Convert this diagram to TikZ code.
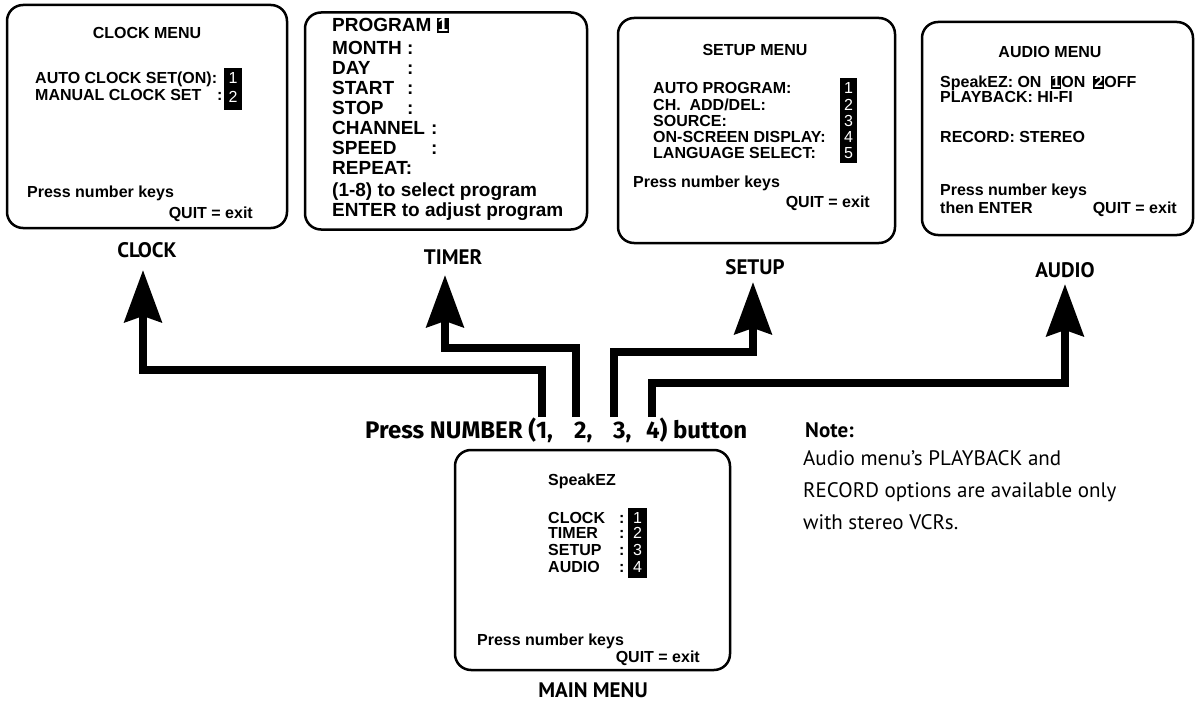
\documentclass[tikz,border=0pt]{standalone}
\usepackage{fontspec}
\setmainfont{Liberation Sans}
\newfontfamily\lblfont{PT Sans}
\newfontfamily\prsfont{Fira Sans}
\usetikzlibrary{arrows.meta}
\newcommand\bxf{\fontsize{16pt}{17pt}\selectfont\bfseries}
\newcommand\txf{\fontsize{19pt}{20pt}\selectfont\bfseries}
\newcommand\dgf{\fontsize{16pt}{17pt}\selectfont}
\newcommand\lbf{\lblfont\fontsize{21pt}{24pt}\selectfont\bfseries}
\newcommand\prf{\prsfont\fontsize{24pt}{26pt}\selectfont\bfseries}
\newcommand\ntf{\lblfont\fontsize{21pt}{24pt}\selectfont}
\newcommand\nbox[1]{\begingroup\setlength{\fboxsep}{1pt}\colorbox{black}{\textcolor{white}{#1}}\endgroup}
\tikzset{
  frame/.style={draw, line width=2.5pt, rounded corners=16pt, inner sep=0pt},
  bt/.style={font=\bxf, inner sep=0pt, text height=11.5pt, text depth=0pt, anchor=west},
  btc/.style={bt, anchor=center},
  bte/.style={bt, anchor=east},
  tt/.style={font=\txf, inner sep=0pt, text height=13.6pt, text depth=0pt, anchor=west},
  bar/.style={fill=black, inner sep=0pt},
  dg/.style={font=\dgf, text=white, inner sep=0pt, text height=11.5pt, text depth=0pt, anchor=center},
  lbl/.style={font=\lbf, inner sep=0pt, text height=14.7pt, text depth=0pt, anchor=center},
  prs/.style={font=\prf, inner sep=0pt, text height=16.5pt, text depth=0pt, anchor=west},
  note/.style={font=\ntf, inner sep=0pt, text height=14.7pt, text depth=0pt, anchor=west},
  conn/.style={line width=8pt, -{Stealth[length=52pt,width=37pt,inset=6pt]}}
}
\begin{document}
\begin{tikzpicture}[x=1pt,y=-1pt]
\useasboundingbox (0,0) rectangle (1195,706);
% ---------- CLOCK ----------
\node[frame, minimum width=280pt, minimum height=223pt] (clockbox) at (147,116.5) {};
\node[btc] (clocktitle) at (147,33) {CLOCK MENU};
\node[bt] (clk1) at (35,78) {AUTO CLOCK SET(ON):};
\node[bt] (clk2) at (35,95) {MANUAL CLOCK SET};
\node[bt] (clk2c) at (217,95) {:};
\node[bar, minimum width=18pt, minimum height=42pt] (clkbar) at (233,89) {};
\node[dg] (clkd1) at (233,78) {1};
\node[dg] (clkd2) at (233,97) {2};
\node[bt] (clkpress) at (27,192) {Press number keys};
\node[bte] (clkquit) at (253,213) {QUIT = exit};
\node[lbl] (clocklbl) at (147,250) {CLOCK};
% ---------- TIMER ----------
\node[frame, minimum width=282pt, minimum height=217pt] (timerbox) at (446,121) {};
\node[tt] (tm0) at (332,25) {PROGRAM \nbox{1}};
\node[tt] (tm1) at (332,48) {MONTH};
\node[tt] (tm1c) at (407,48) {:};
\node[tt] (tm2) at (332,68) {DAY};
\node[tt] (tm2c) at (407,68) {:};
\node[tt] (tm3) at (332,88) {START};
\node[tt] (tm3c) at (407,88) {:};
\node[tt] (tm4) at (332,108) {STOP};
\node[tt] (tm4c) at (407,108) {:};
\node[tt] (tm5) at (332,128) {CHANNEL};
\node[tt] (tm5c) at (431,128) {:};
\node[tt] (tm6) at (332,148) {SPEED};
\node[tt] (tm6c) at (431,148) {:};
\node[tt] (tm7) at (332,168) {REPEAT:};
\node[tt] (tm8) at (332,190) {(1-8) to select program};
\node[tt] (tm9) at (332,210) {ENTER to adjust program};
\node[lbl] (timerlbl) at (453,257) {TIMER};
% ---------- SETUP ----------
\node[frame, minimum width=277pt, minimum height=225pt] (setupbox) at (756.5,130.5) {};
\node[btc] (setuptitle) at (755,50) {SETUP MENU};
\node[bt] (su1) at (653,88) {AUTO PROGRAM:};
\node[bt] (su2) at (653,105) {CH.\ \ ADD/DEL:};
\node[bt] (su3) at (653,121) {SOURCE:};
\node[bt] (su4) at (653,137) {ON-SCREEN DISPLAY:};
\node[bt] (su5) at (653,153) {LANGUAGE SELECT:};
\node[bar, minimum width=17pt, minimum height=85pt] (subar) at (848.5,120.5) {};
\node[dg] (sud1) at (848.5,88) {1};
\node[dg] (sud2) at (848.5,105) {2};
\node[dg] (sud3) at (848.5,121) {3};
\node[dg] (sud4) at (848.5,137) {4};
\node[dg] (sud5) at (848.5,153) {5};
\node[bt] (supress) at (633,182) {Press number keys};
\node[bte] (suquit) at (870,202) {QUIT = exit};
\node[lbl] (setuplbl) at (755,267) {SETUP};
% ---------- AUDIO ----------
\node[frame, minimum width=271pt, minimum height=213pt] (audiobox) at (1057.5,128.5) {};
\node[btc] (audiotitle) at (1050,52) {AUDIO MENU};
\node[bt] (au1) at (940,82) {SpeakEZ: ON\hspace{9pt}\nbox{1}ON\hspace{8pt}\nbox{2}OFF};
\node[bt] (au2) at (940,97) {PLAYBACK: HI-FI};
\node[bt] (au3) at (940,137) {RECORD: STEREO};
\node[bt] (aupress) at (940,190) {Press number keys};
\node[bt] (auenter) at (940,208) {then ENTER};
\node[bte] (auquit) at (1177,208) {QUIT = exit};
\node[lbl] (audiolbl) at (1065,270) {AUDIO};
% ---------- MAIN ----------
\node[frame, minimum width=275pt, minimum height=220pt] (mainbox) at (592.5,560) {};
\node[btc] (maintitle) at (582,480) {SpeakEZ};
\node[bt] (mn1) at (548,518) {CLOCK};
\node[bt] (mn2) at (548,533) {TIMER};
\node[bt] (mn3) at (548,550) {SETUP};
\node[bt] (mn4) at (548,567) {AUDIO};
\node[bt] (mn1c) at (619,518) {:};
\node[bt] (mn2c) at (619,533) {:};
\node[bt] (mn3c) at (619,550) {:};
\node[bt] (mn4c) at (619,567) {:};
\node[bar, minimum width=19pt, minimum height=70pt] (mnbar) at (637.5,543) {};
\node[dg] (mnd1) at (637.5,518) {1};
\node[dg] (mnd2) at (637.5,533) {2};
\node[dg] (mnd3) at (637.5,550) {3};
\node[dg] (mnd4) at (637.5,567) {4};
\node[bt] (mnpress) at (477,640) {Press number keys};
\node[bte] (mnquit) at (700,657) {QUIT = exit};
\node[lbl] (mainlbl) at (593,690) {MAIN MENU};
% ---------- press label ----------
\node[prs] (press) at (365,430) {Press NUMBER (\makebox[38pt][l]{1,}\makebox[39pt][l]{2,}\makebox[33pt][l]{3,}4) button};
% ---------- note ----------
\node[note, font=\ntf\bfseries] (notehd) at (805,430) {Note:};
\node[note] (note1) at (803,458) {Audio menu’s PLAYBACK and};
\node[note] (note2) at (803,490) {RECORD options are available only};
\node[note] (note3) at (803,522) {with stereo VCRs.};
% ---------- connectors ----------
\coordinate (s1) at (542,417); \coordinate (t1) at (143,270);
\coordinate (s2) at (576,417); \coordinate (t2) at (445,275);
\coordinate (s3) at (614,417); \coordinate (t3) at (753,282);
\coordinate (s4) at (652,417); \coordinate (t4) at (1065,284);
\draw[conn] (s1) -- (542,370) -- (143,370) -- (t1);
\draw[conn] (s2) -- (576,348) -- (445,348) -- (t2);
\draw[conn] (s3) -- (614,352) -- (753,352) -- (t3);
\draw[conn] (s4) -- (652,383) -- (1065,383) -- (t4);
\end{tikzpicture}
\end{document}
